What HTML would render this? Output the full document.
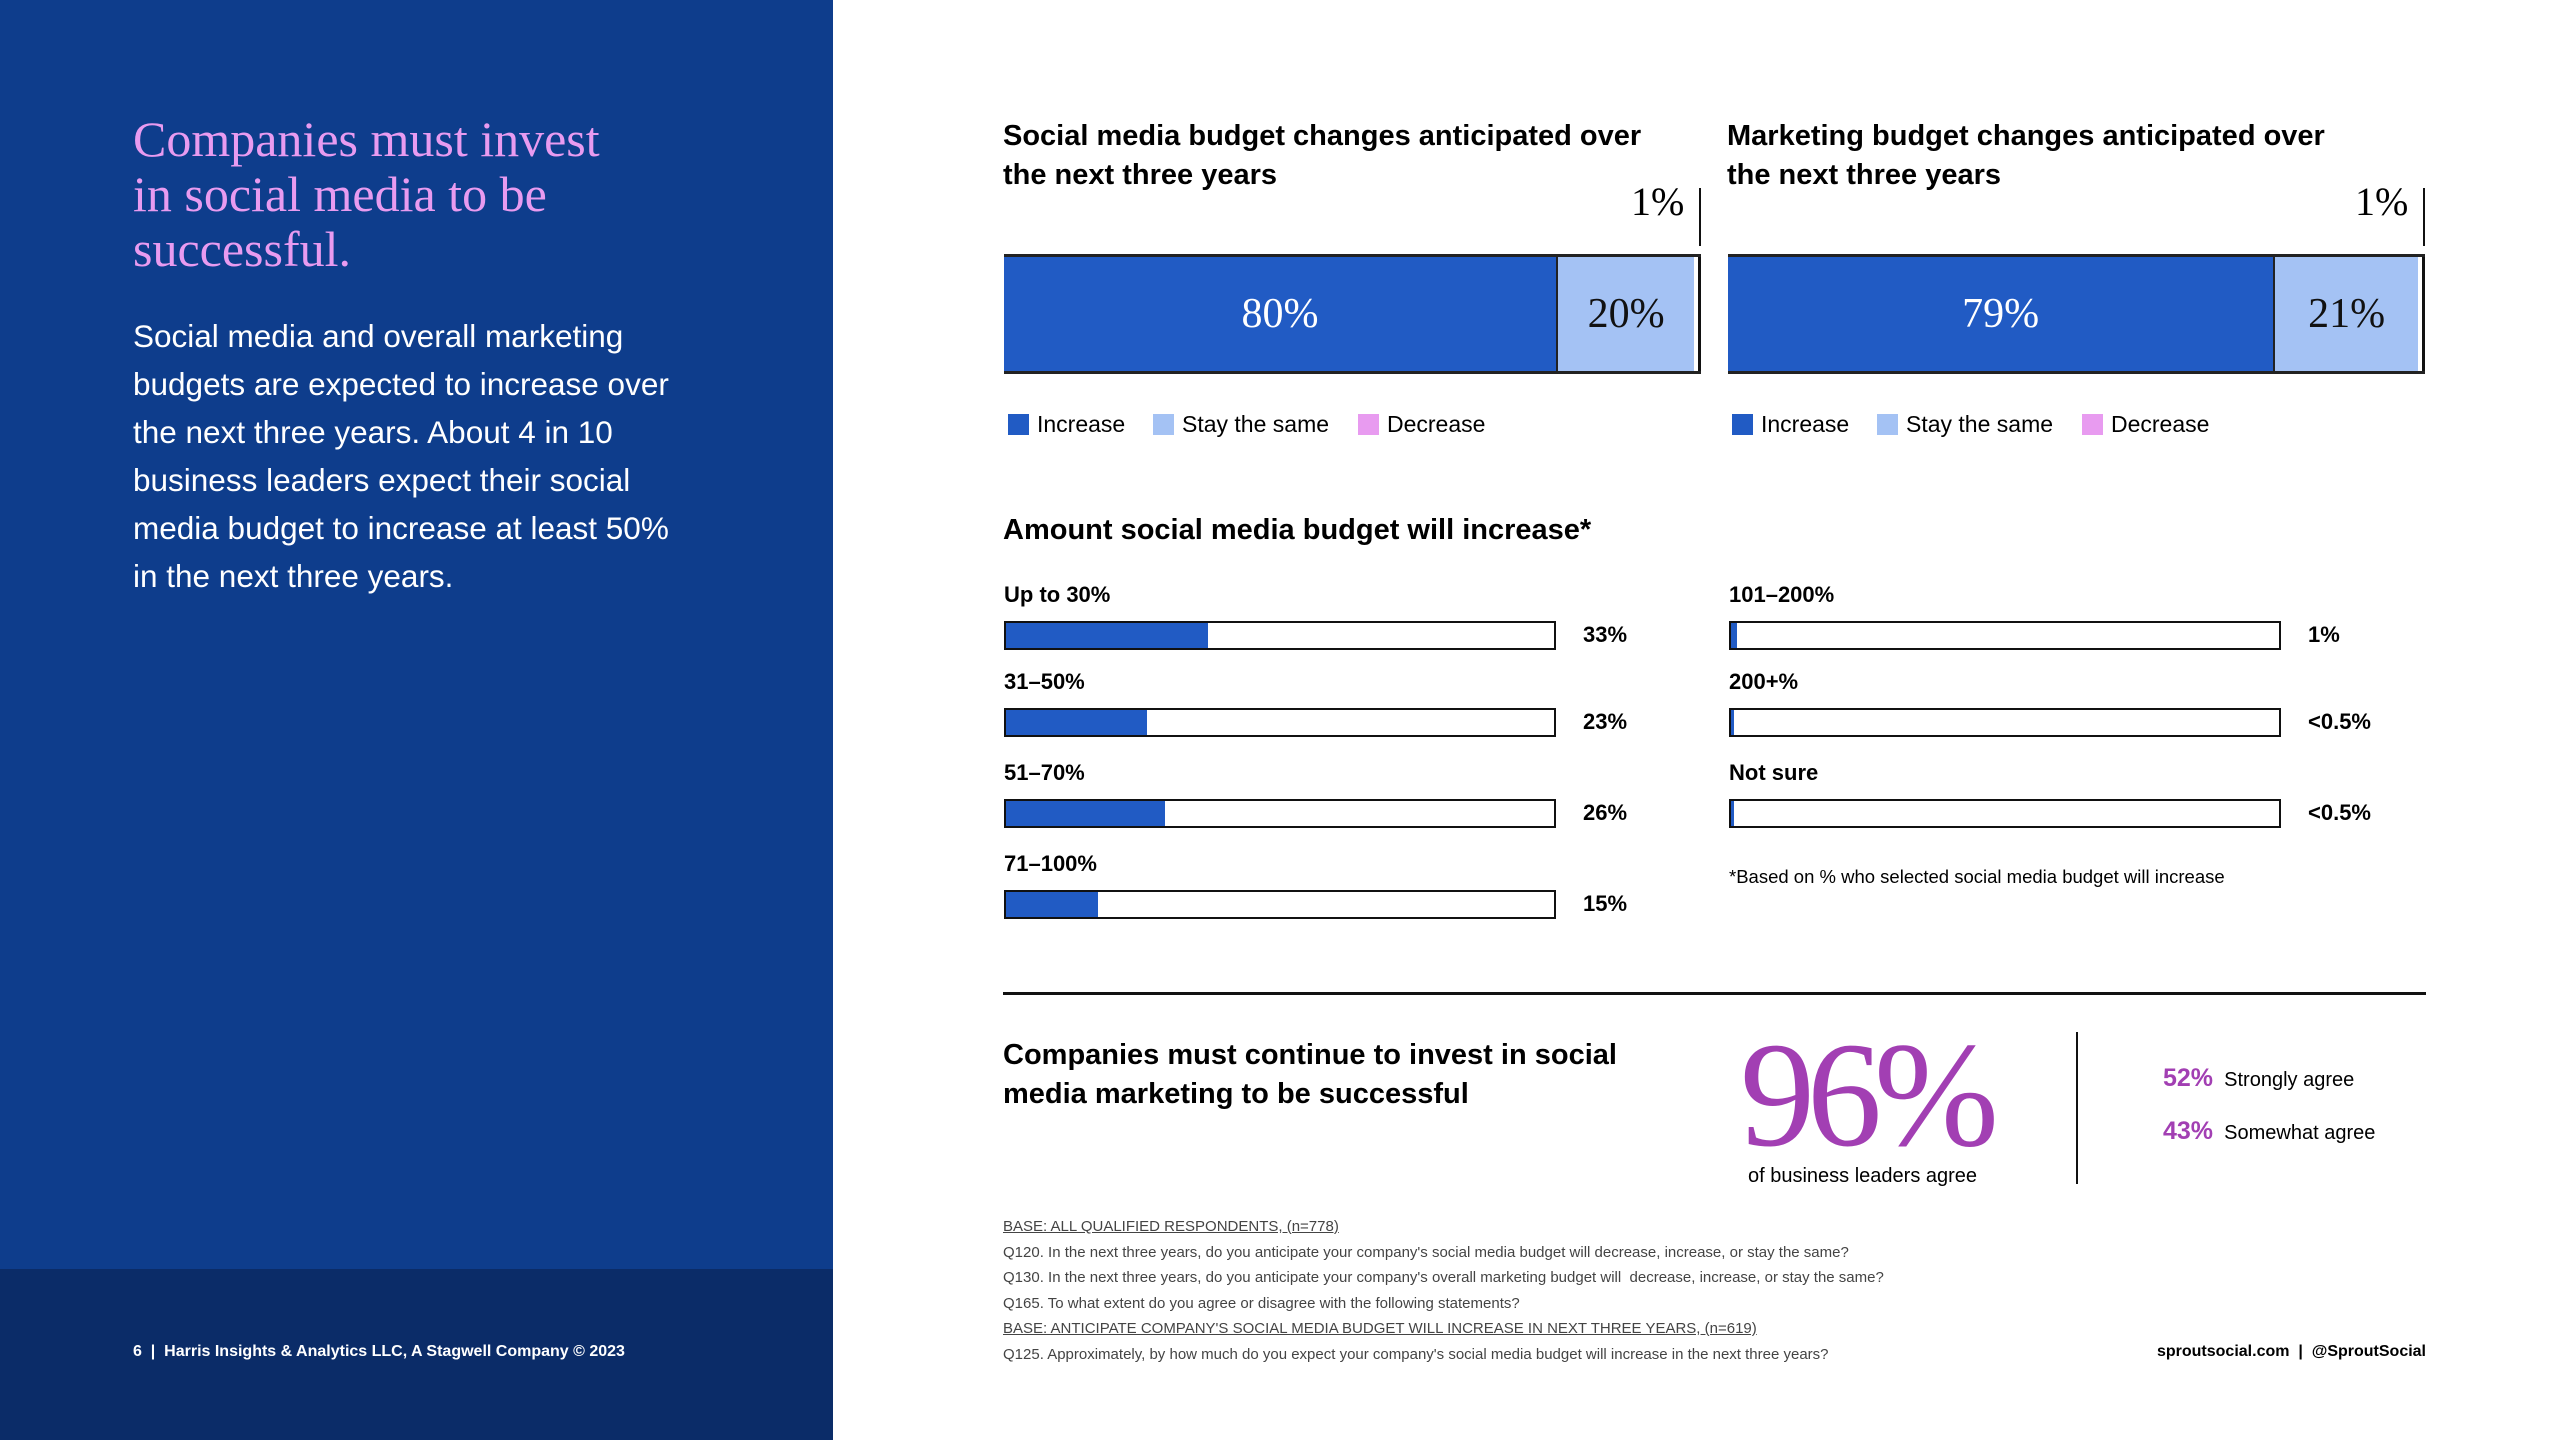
<!DOCTYPE html>
<html><head><meta charset="utf-8">
<style>
*{margin:0;padding:0;box-sizing:border-box}
body{width:2560px;height:1440px;position:relative;background:#fff;font-family:"Liberation Sans",sans-serif;overflow:hidden;color:#000}
.a{position:absolute;white-space:nowrap}
.b{font-weight:bold}
.serif{font-family:"Liberation Serif",serif}
</style></head><body>
<div class="a" style="left:0;top:0;width:833px;height:1269px;background:#0e3d8c"></div>
<div class="a" style="left:0;top:1269px;width:833px;height:171px;background:#0b2c68"></div>
<div class="a serif" style="left:133px;top:112px;font-size:50px;line-height:55px;color:#e89bf0">Companies must invest<br>in social media to be<br>successful.</div>
<div class="a" style="left:133px;top:312px;font-size:31.5px;line-height:48px;color:#fff">Social media and overall marketing<br>budgets are expected to increase over<br>the next three years. About 4 in 10<br>business leaders expect their social<br>media budget to increase at least 50%<br>in the next three years.</div>
<div class="a b" style="left:133px;top:1343px;font-size:16px;color:#fff">6 &nbsp;|&nbsp; Harris Insights &amp; Analytics LLC, A Stagwell Company © 2023</div>

<div class="a b" style="left:1003px;top:117px;font-size:29px;line-height:39px">Social media budget changes anticipated over<br>the next three years</div>
<div class="a b" style="left:1727px;top:117px;font-size:29px;line-height:39px">Marketing budget changes anticipated over<br>the next three years</div>
<div id="stacks"></div>
<div id="legends"></div>

<div class="a b" style="left:1003px;top:514px;font-size:29px">Amount social media budget will increase*</div>
<div id="hbars"></div>
<div class="a" style="left:1729px;top:866px;font-size:18.5px">*Based on % who selected social media budget will increase</div>

<div class="a" style="left:1003px;top:992px;width:1423px;height:3px;background:#111"></div>
<div class="a b" style="left:1003px;top:1036px;font-size:29px;line-height:39px">Companies must continue to invest in social<br>media marketing to be successful</div>
<div class="a serif" style="left:1740px;top:1010px;font-size:150px;line-height:170px;color:#a23fb3;letter-spacing:-8px">96%</div>
<div class="a" style="left:1748px;top:1165px;font-size:20px">of business leaders agree</div>
<div class="a" style="left:2076px;top:1032px;width:2px;height:152px;background:#111"></div>
<div class="a" style="left:2163px;top:1064px;font-size:20px"><span class="b" style="color:#a23fb3;font-size:25px">52%</span>&nbsp; Strongly agree</div>
<div class="a" style="left:2163px;top:1117px;font-size:20px"><span class="b" style="color:#a23fb3;font-size:25px">43%</span>&nbsp; Somewhat agree</div>

<div class="a" style="left:1003px;top:1214px;font-size:15px;line-height:25.5px;color:#444">
<u>BASE: ALL QUALIFIED RESPONDENTS, (n=778)</u><br>
Q120. In the next three years, do you anticipate your company's social media budget will decrease, increase, or stay the same?<br>
Q130. In the next three years, do you anticipate your company's overall marketing budget will &nbsp;decrease, increase, or stay the same?<br>
Q165. To what extent do you agree or disagree with the following statements?<br>
<u>BASE: ANTICIPATE COMPANY'S SOCIAL MEDIA BUDGET WILL INCREASE IN NEXT THREE YEARS, (n=619)</u><br>
Q125. Approximately, by how much do you expect your company's social media budget will increase in the next three years?</div>
<div class="a b" style="right:134px;top:1343px;font-size:16px">sproutsocial.com &nbsp;|&nbsp; @SproutSocial</div>

<script>
const stackCharts = ["social", "marketing"];
const increaseVals = [80, 79];
const sameVals = [20, 21];
const decreaseVals = [1, 1];
const legendLabels = ["Increase", "Stay the same", "Decrease"];
const legendColors = ["#215bc4", "#a4c2f4", "#e89bf0"];
const amountCats = ["Up to 30%", "31–50%", "51–70%", "71–100%", "101–200%", "200+%", "Not sure"];
const amountVals = [33, 23, 26, 15, 1, 0.3, 0.3];
const amountLabels = ["33%", "23%", "26%", "15%", "1%", "<0.5%", "<0.5%"];

const stackLeft = [1004, 1728], stackW = 697;
const sc = v => v / 101 * stackW;
const host = document.getElementById('stacks');
stackCharts.forEach((c, i) => {
  const x0 = stackLeft[i];
  const box = document.createElement('div');
  box.className = 'a';
  box.style.cssText = `left:${x0}px;top:254px;width:${stackW}px;height:120px;border-top:3px solid #222;border-bottom:3px solid #222;`;
  
  
  host.appendChild(box);
  const segs = [[increaseVals[i], legendColors[0], '#fff', 'increase'], [sameVals[i], legendColors[1], '#111', 'stay-same'], [decreaseVals[i], legendColors[2], '#111', 'decrease']];
  let acc = 0;
  segs.forEach((s, j) => {
    const seg = document.createElement('div');
    seg.className = 'a serif';
    const w = j == 2 ? 3 : sc(s[0]);
    seg.style.cssText = `left:${j==2 ? stackW-3 : sc(acc)}px;top:0;width:${w}px;height:114px;background:${j==2?'#111':s[1]};${j==1?'border-left:2px solid #222;':''}color:${s[2]};font-size:42px;line-height:114px;text-align:center;`;
    if (j < 2) seg.textContent = s[0] + '%';
    
    
    box.appendChild(seg);
    acc += s[0];
  });
  const lab = document.createElement('div');
  lab.className = 'a serif';
  lab.style.cssText = `left:${x0 + stackW - 70}px;top:178px;font-size:40px;`;
  lab.textContent = decreaseVals[i] + '%';
  
  
  document.body.appendChild(lab);
  const ln = document.createElement('div');
  ln.className = 'a';
  ln.style.cssText = `left:${x0 + stackW - 2}px;top:188px;width:2px;height:58px;background:#111;`;
  
  
  document.body.appendChild(ln);
  let lx = x0 + 4;
  legendLabels.forEach((t, k) => {
    const e = document.createElement('div');
    e.className = 'a';
    e.style.cssText = `left:${lx}px;top:410px;font-size:23px;line-height:28px;`;
    e.innerHTML = `<span style="display:inline-block;width:21px;height:21px;background:${legendColors[k]};vertical-align:-3px;margin-right:8px"></span>${t}`;
    
    
    document.body.appendChild(e);
    lx += [145, 205, 0][k];
  });
});

const hb = document.getElementById('hbars');
const barW = 552, maxV = 90;
const hx = v => v / maxV * barW;
const colX = [1004, 1729], rowY = [582, 669, 760, 851];
amountCats.forEach((c, i) => {
  const col = i < 4 ? 0 : 1, row = i < 4 ? i : i - 4;
  const x = colX[col], y = rowY[row];
  const l = document.createElement('div');
  l.className = 'a b';
  l.style.cssText = `left:${x}px;top:${y}px;font-size:22px;`;
  l.textContent = c;
  
  
  hb.appendChild(l);
  const t = document.createElement('div');
  t.className = 'a';
  t.style.cssText = `left:${x}px;top:${y + 39}px;width:${barW}px;height:29px;border:2.5px solid #111;`;
  
  
  hb.appendChild(t);
  const f = document.createElement('div');
  f.className = 'a';
  f.style.cssText = `left:0;top:0;width:${Math.max(hx(amountVals[i]), 3)}px;height:100%;background:#215bc4;`;
  
  
  t.appendChild(f);
  const v = document.createElement('div');
  v.className = 'a b';
  v.style.cssText = `left:${x + barW + 27}px;top:${y + 40}px;font-size:22px;`;
  v.textContent = amountLabels[i];
  
  
  hb.appendChild(v);
});
</script>
</body></html>
